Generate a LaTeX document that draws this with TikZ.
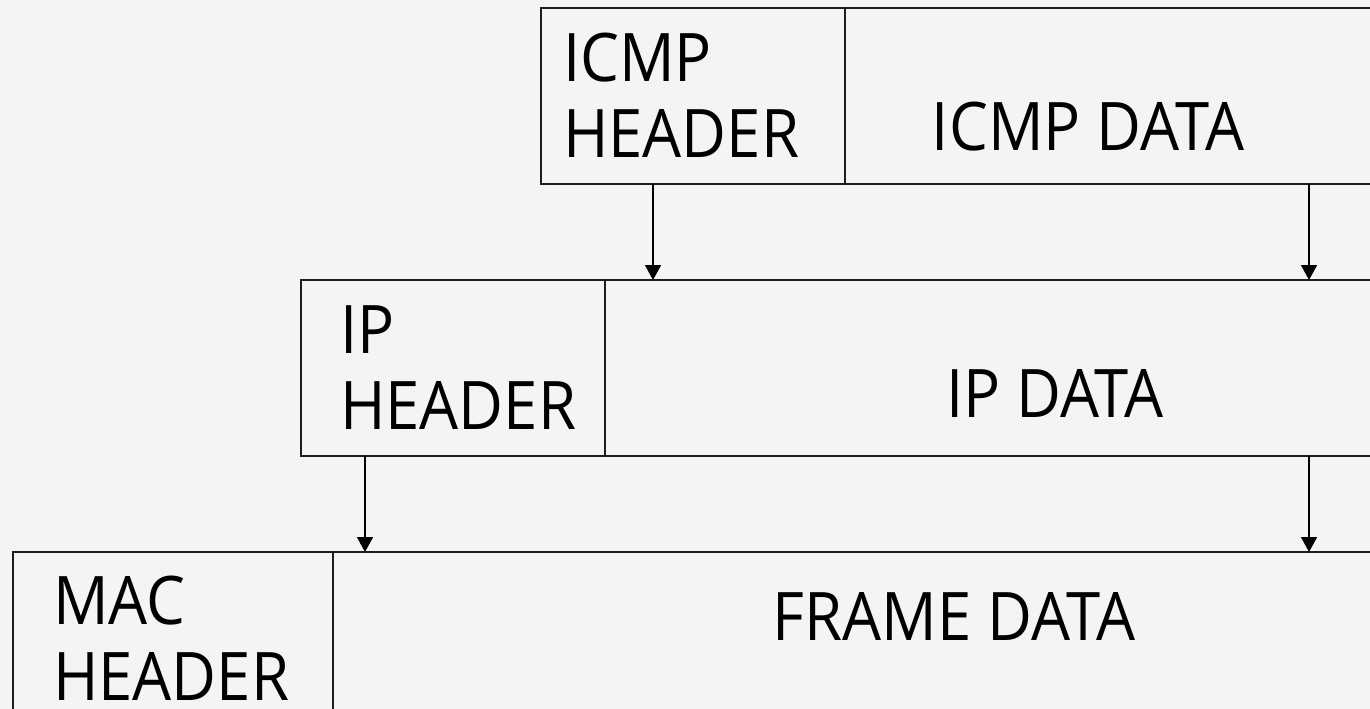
\documentclass[tikz,border=0pt]{standalone}
\usepackage{fontspec}
\setmainfont[FakeStretch=0.92]{Open Sans}
\usetikzlibrary{arrows.meta}
\definecolor{bg}{HTML}{F4F4F4}
\definecolor{edge}{HTML}{1E1E1E}
\begin{document}
\begin{tikzpicture}[x=1pt,y=-1pt,
  cell/.style={draw=edge,line width=1.6pt,anchor=north west,inner sep=0pt,outer sep=0pt},
  hdr/.style={anchor=north west,inner sep=0pt,align=left,font=\fontsize{67}{76}\selectfont},
  dat/.style={anchor=base,inner sep=0pt,font=\fontsize{67}{76}\selectfont},
  arr/.style={draw=black,line width=1.6pt,-{Triangle[width=16pt,length=15pt]}}]
\fill[bg] (0,0) rectangle (1370,709);
\useasboundingbox (0,0) rectangle (1370,709);
\clip (0,0) rectangle (1370,709);

% ICMP layer
\node[cell,minimum width=304pt,minimum height=176pt] (icmph) at (541,8) {};
\node[cell,minimum width=540pt,minimum height=176pt] (icmpd) at (845,8) {};
% IP layer
\node[cell,minimum width=304pt,minimum height=176pt] (iph) at (301,280) {};
\node[cell,minimum width=780pt,minimum height=176pt] (ipd) at (605,280) {};
% Ethernet frame
\node[cell,minimum width=320pt,minimum height=180pt] (mach) at (13,552) {};
\node[cell,minimum width=1052pt,minimum height=180pt] (frame) at (333,552) {};

% labels
\node[hdr] (t1) at ([shift={(22,25)}]icmph.north west) {ICMP\\HEADER};
\node[dat] (t2) at (1088,150) {ICMP DATA};
\node[hdr] (t3) at ([shift={(39,25)}]iph.north west) {IP\\HEADER};
\node[dat] (t4) at (1055,417) {IP DATA};
\node[hdr] (t5) at ([shift={(40,24)}]mach.north west) {MAC\\HEADER};
\node[dat] (t6) at (954,640) {FRAME DATA};

% encapsulation arrows
\draw[arr] ([xshift=112pt]icmph.south west) coordinate (a1) -- (a1 |- iph.north);
\draw[arr] ([xshift=464pt]icmpd.south west) coordinate (a2) -- (a2 |- ipd.north);
\draw[arr] ([xshift=64pt]iph.south west) coordinate (a3) -- (a3 |- mach.north);
\draw[arr] ([xshift=704pt]ipd.south west) coordinate (a4) -- (a4 |- frame.north);
\end{tikzpicture}
\end{document}
